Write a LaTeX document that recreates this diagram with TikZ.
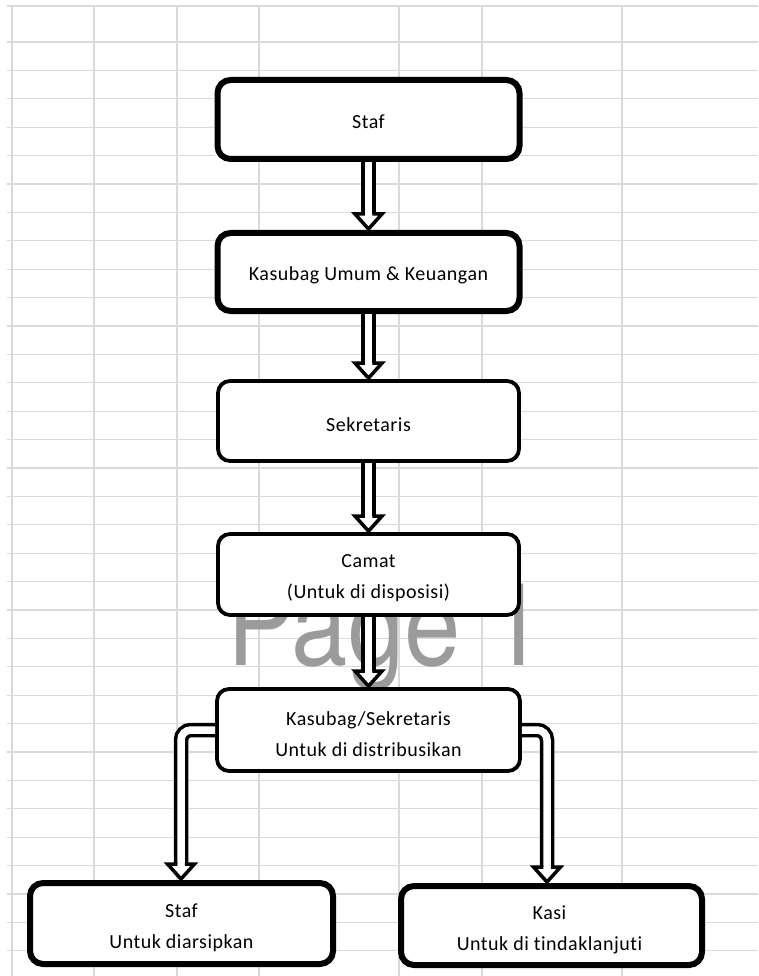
\documentclass[tikz,border=0pt]{standalone}
\usepackage{fontspec}
\setmainfont{Carlito}[LetterSpace=2.5, Ligatures=NoCommon]
\newfontfamily\wmfont{TeX Gyre Heros}
\usetikzlibrary{calc}
\definecolor{gridc}{RGB}{218,218,218}
\definecolor{wmgray}{RGB}{155,155,155}
\tikzset{
  boxbase/.style={draw=black, fill=white, inner sep=0pt},
  thickbox/.style={boxbase, line width=6pt, rounded corners=13pt},
  thinbox/.style={boxbase, line width=3.8pt, rounded corners=12pt},
  txt/.style={align=center, font=\fontsize{20}{31}\selectfont, inner sep=0pt},
  shaft/.style={draw=black, line width=3.5pt, double=white, double distance=7.5pt},
  headst/.style={draw=black, fill=white, line width=3.5pt, line join=miter},
  gridline/.style={draw=gridc, line width=1.3pt},
}
\newcommand{\hhead}[1]{%
  \filldraw[headst] ($(#1)+(-3.75pt,15pt)$) -- ($(#1)+(-13.5pt,15pt)$) -- (#1) -- ($(#1)+(13.5pt,15pt)$) -- ($(#1)+(3.75pt,15pt)$);}
\begin{document}
\begin{tikzpicture}[x=1pt, y=-1pt]
\useasboundingbox (0,0) rectangle (758,976);
\fill[white] (0,0) rectangle (758,976);
% spreadsheet grid
\draw[gridline] (7,6) -- (758,6);
\foreach \k in {0,...,32} \draw[gridline] (7,{42+28.4*\k}) -- (758,{42+28.4*\k});
\foreach \x in {12,94,177,259,399,482,622} \draw[gridline] (\x,6) -- (\x,976);
% watermark
\node[font=\wmfont\fontsize{115}{115}\selectfont, text=wmgray, anchor=base, inner sep=0pt] (wm) at (386,665) {\scalebox{0.88}[1]{Page 1}};
% boxes
\node[thickbox, minimum width=302pt, minimum height=79pt] (B1) at (368.5,119.5) {};
\node[thickbox, minimum width=302pt, minimum height=78pt] (B2) at (368.5,272) {};
\node[thinbox, minimum width=301pt, minimum height=80pt] (B3) at (368.5,421) {};
\node[thinbox, minimum width=301pt, minimum height=81pt] (B4) at (368.5,574.5) {};
\node[thinbox, minimum width=303pt, minimum height=82pt] (B5) at (368.5,730) {};
\node[thickbox, minimum width=303pt, minimum height=81pt] (B6) at (181.5,923.5) {};
\node[thickbox, minimum width=301pt, minimum height=79pt] (B7) at (551.5,925.5) {};
% texts
\node[txt] (T1) at ([yshift=-2pt]B1.center) {Staf};
\node[txt] (T2) at ([yshift=-3pt]B2.center) {Kasubag Umum \& Keuangan};
\node[txt] (T3) at ([yshift=-4pt]B3.center) {Sekretaris};
\node[txt] (T4) at ([yshift=-4pt]B4.center) {Camat\\(Untuk di disposisi)};
\node[txt] (T5) at ([yshift=-4pt]B5.center) {Kasubag/Sekretaris\\Untuk di distribusikan};
\node[txt] (T6) at ([yshift=-4pt]B6.center) {Staf\\Untuk diarsipkan};
\node[txt] (T7) at ([xshift=-2pt, yshift=-4pt]B7.center) {Kasi\\Untuk di tindaklanjuti};
% straight arrows
\coordinate (t1) at ([yshift=1pt]B2.north);
\coordinate (b1) at ([yshift=15pt]t1);
\draw[shaft] (B1.south) -- (b1);
\hhead{t1}
\coordinate (t2) at ([yshift=1pt]B3.north);
\coordinate (b2) at ([yshift=15pt]t2);
\draw[shaft] (B2.south) -- (b2);
\hhead{t2}
\coordinate (t3) at ([yshift=1pt]B4.north);
\coordinate (b3) at ([yshift=15pt]t3);
\draw[shaft] (B3.south) -- (b3);
\hhead{t3}
\coordinate (t4) at ([yshift=1pt]B5.north);
\coordinate (b4) at ([yshift=15pt]t4);
\draw[shaft] (B4.south) -- (b4);
\hhead{t4}
% elbow arrows
\coordinate (t5) at ([xshift=-0.5pt, yshift=1pt]B6.north);
\coordinate (b5) at ([yshift=15pt]t5);
\draw[shaft, rounded corners=10pt] (B5.west) -| (b5);
\hhead{t5}
\coordinate (t6) at ([xshift=-4.5pt, yshift=1pt]B7.north);
\coordinate (b6) at ([yshift=15pt]t6);
\draw[shaft, rounded corners=10pt] (B5.east) -| (b6);
\hhead{t6}
\end{tikzpicture}
\end{document}
